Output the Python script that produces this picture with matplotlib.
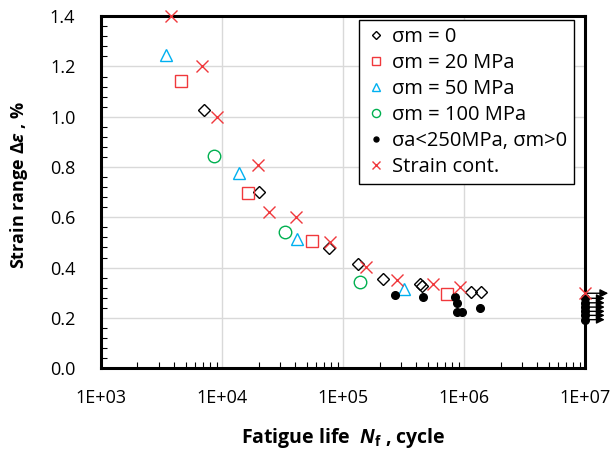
import matplotlib
matplotlib.use('Agg')
import matplotlib.pyplot as plt
from matplotlib.ticker import MultipleLocator, LogLocator, NullFormatter

plt.rcParams['font.family'] = ['Open Sans', 'DejaVu Sans']
plt.rcParams['mathtext.fontset'] = 'custom'
plt.rcParams['mathtext.it'] = 'Open Sans:italic:bold'
plt.rcParams['mathtext.rm'] = 'Open Sans:bold'
plt.rcParams['mathtext.bf'] = 'Open Sans:bold'

# data
sm0_n = [7060, 20100, 76200, 134000, 213000, 433000, 447000, 1135000, 1380000]
sm0_e = [1.026, 0.70, 0.476, 0.416, 0.355, 0.334, 0.326, 0.304, 0.304]

sm20_n = [4580, 16300, 55100, 720000]
sm20_e = [1.142, 0.697, 0.506, 0.297]

sm50_n = [3443, 13700, 41900, 321000]
sm50_e = [1.245, 0.778, 0.513, 0.314]

sm100_n = [8630, 33300, 138000]
sm100_e = [0.845, 0.542, 0.343]

sa_n = [269000, 456000, 843000, 881000, 869000, 955000, 1360000,
        1e7, 1e7, 1e7, 1e7, 1e7, 1e7]
sa_e = [0.293, 0.284, 0.284, 0.261, 0.222, 0.222, 0.241,
        0.278, 0.26, 0.243, 0.226, 0.21, 0.193]

sc_n = [3785, 6790, 9140, 19700, 24400, 41100, 78500, 155000, 278000,
        557000, 927000, 1e7]
sc_e = [1.40, 1.20, 1.0, 0.81, 0.622, 0.602, 0.502, 0.403, 0.350,
        0.333, 0.323, 0.30]

# run-outs (arrows at 1E+07)
runout_e = [0.298, 0.278, 0.26, 0.243, 0.226, 0.21, 0.193]
runout_end = [1.55e7, 1.45e7, 1.45e7, 1.45e7, 1.45e7, 1.45e7, 1.45e7]

xticks = [1e3, 1e4, 1e5, 1e6, 1e7]
xticklabels = ['1E+03', '1E+04', '1E+05', '1E+06', '1E+07']

red = '#f0383c'
fig = plt.figure(figsize=(6.16, 4.49), dpi=100)
ax = fig.add_axes([0.164, 0.180, 0.786, 0.784])

ax.plot(sm0_n, sm0_e, 'D', ms=6.5, mfc='none', mec='black', mew=1.0, label='σm = 0', zorder=3)
ax.plot(sm20_n, sm20_e, 's', ms=9, mfc='none', mec=red, mew=1.0, label='σm = 20 MPa', zorder=3)
ax.plot(sm50_n, sm50_e, '^', ms=9, mfc='none', mec='#00b0f0', mew=1.0, label='σm = 50 MPa', zorder=3)
ax.plot(sm100_n, sm100_e, 'o', ms=9, mfc='none', mec='#00b050', mew=1.0, label='σm = 100 MPa', zorder=3)
ax.plot(sa_n, sa_e, 'o', ms=5.5, mfc='black', mec='black', label='σa<250MPa, σm>0', zorder=4, clip_on=False)
ax.plot(sc_n, sc_e, 'x', ms=8, mec=red, mew=1.0, label='Strain cont.', zorder=5, clip_on=False)

for e, xe in zip(runout_e, runout_end):
    ax.annotate('', xy=(xe, e), xytext=(1e7, e), xycoords='data',
                annotation_clip=False,
                arrowprops=dict(arrowstyle='-|>', color='black', lw=1,
                                mutation_scale=12, shrinkA=0, shrinkB=0))

ax.set_xscale('log')
ax.set_xlim(1e3, 1e7)
ax.set_ylim(0, 1.4)
ax.set_xticks(xticks)
ax.set_xticklabels(xticklabels)
ax.xaxis.set_minor_locator(LogLocator(base=10, subs=range(2, 10)))
ax.xaxis.set_minor_formatter(NullFormatter())
ax.yaxis.set_major_locator(MultipleLocator(0.2))
ax.yaxis.set_minor_locator(MultipleLocator(0.04))
ax.yaxis.set_major_formatter(plt.FormatStrFormatter('%.1f'))

ax.tick_params(axis='both', which='major', length=0, labelsize=13)
ax.tick_params(axis='x', which='major', pad=15)
ax.tick_params(axis='y', which='major', pad=18.5)
ax.tick_params(which='minor', direction='in', length=4, width=0.8, top=False, right=False)

ax.grid(True, which='major', color='#d9d9d9', lw=1)
ax.set_axisbelow(True)
for s in ax.spines.values():
    s.set_linewidth(2.2)
    s.set_color('black')

ax.set_xlabel(r'Fatigue life  $N_{\mathregular{f}}$ , cycle', fontsize=14, fontweight='bold')
ax.set_ylabel(r'Strain range $\mathit{\Delta\varepsilon}$ , %', fontsize=13, fontweight='bold')
ax.xaxis.set_label_coords(0.5, -0.165)
ax.yaxis.set_label_coords(-0.147, 0.52)

leg = ax.legend(loc='upper right', bbox_to_anchor=(0.977, 0.989), borderaxespad=0,
                fontsize=14.5, frameon=True, fancybox=False, framealpha=1,
                handletextpad=0.3, handlelength=1.0, labelspacing=0.3,
                borderpad=0.35, markerscale=0.65)
leg.get_frame().set_edgecolor('black')
leg.get_frame().set_linewidth(1)

fig.savefig('out.png', dpi=100)
